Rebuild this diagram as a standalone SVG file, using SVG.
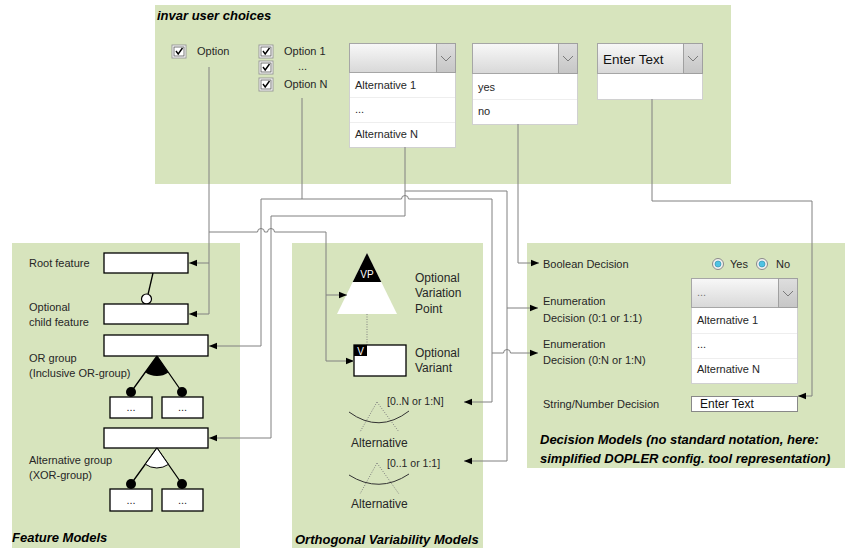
<svg xmlns="http://www.w3.org/2000/svg" width="845" height="551" viewBox="0 0 845 551">
<defs>
<style>
.panel{fill:#d7e4bd}
.t{font-family:"Liberation Sans",Arial,sans-serif;font-size:11px;fill:#262626}
.t12{font-size:12px}
.ts{font-size:10.5px}
.ti{font-family:"Liberation Sans",Arial,sans-serif;font-size:13px;font-weight:bold;font-style:italic;fill:#000}
.box{fill:#fff;stroke:#000;stroke-width:1.3}
.c{fill:none;stroke:#808080;stroke-width:1}
.ca{fill:none;stroke:#808080;stroke-width:1;marker-end:url(#ah)}
.hdr{fill:url(#gh);stroke:#a6a6a6}
.btn{fill:url(#gb);stroke:#a0a0a0}
.list{fill:#fff;stroke:#d0d0d0}
.sep{stroke:#eeeeee;stroke-width:1}
.chev{fill:none;stroke:#7a7a7a;stroke-width:1}
.ln{stroke:#000;stroke-width:1.3;fill:none}
.dot{stroke:#808080;stroke-width:1;stroke-dasharray:1 1.5;fill:none}
.arc{stroke:#333;stroke-width:1;fill:none}
</style>
<linearGradient id="gh" x1="0" y1="0" x2="0" y2="1"><stop offset="0" stop-color="#f8f8f8"/><stop offset="1" stop-color="#d8d8d8"/></linearGradient>
<linearGradient id="gb" x1="0" y1="0" x2="0" y2="1"><stop offset="0" stop-color="#dedede"/><stop offset="1" stop-color="#c6c6c6"/></linearGradient>
<marker id="ah" markerUnits="userSpaceOnUse" markerWidth="8" markerHeight="8" viewBox="0 0 8 8" refX="8" refY="4" orient="auto"><path d="M0,0.8 L8,4 L0,7.2 Z" fill="#000"/></marker>
<g id="chk">
<rect x="0" y="0" width="14" height="13" fill="#fff" stroke="#9a9a9a"/>
<rect x="2" y="2" width="10" height="9" fill="#fff" stroke="#555" stroke-width="0.8"/>
<path d="M4,6 L6.2,9 L10.5,3" fill="none" stroke="#000" stroke-width="1.4"/>
</g>
<g id="chev"><path class="chev" d="M-5,-2 L0,3 L5,-2"/></g>
<g id="radio">
<circle r="5.5" fill="#f0f0f0" stroke="#8a8a8a"/>
<circle r="3" fill="#4fc3e3" stroke="#2a8aa8" stroke-width="0.6"/>
</g>
</defs>

<!-- panels -->
<g id="panel-invar">
<rect class="panel" x="155" y="5" width="576" height="179"/>
<text class="ti" x="157" y="20">invar user choices</text>
</g>
<g id="panel-fm">
<rect class="panel" x="12" y="243" width="228" height="305"/>
<text class="ti" x="12" y="542">Feature Models</text>
</g>
<g id="panel-ovm">
<rect class="panel" x="292" y="243" width="191" height="305"/>
<text class="ti" x="295" y="544">Orthogonal Variability Models</text>
</g>
<g id="panel-dm">
<rect class="panel" x="527" y="243" width="318" height="225"/>
<text class="ti" x="540" y="444">Decision Models (no standard notation, here:</text>
<text class="ti" x="540" y="463">simplified DOPLER config. tool representation)</text>
</g>

<!-- invar choices -->
<g id="choice-option">
<use href="#chk" x="172" y="45"/>
<text class="t" x="197" y="55">Option</text>
</g>
<g id="choice-options">
<use href="#chk" x="259" y="45"/>
<use href="#chk" x="259" y="61"/>
<use href="#chk" x="259" y="78"/>
<text class="t" x="284" y="55">Option 1</text>
<text class="t" x="298" y="70">...</text>
<text class="t" x="284" y="88">Option N</text>
</g>
<g id="choice-dropdown">
<rect class="list" x="349.5" y="72.5" width="106" height="75"/>
<line class="sep" x1="350" y1="97.5" x2="455" y2="97.5"/>
<line class="sep" x1="350" y1="122.5" x2="455" y2="122.5"/>
<rect class="hdr" x="349.5" y="43.5" width="106" height="29"/>
<rect class="btn" x="436.5" y="43.5" width="19" height="29"/>
<use href="#chev" x="446" y="58"/>
<text class="t" x="355" y="89">Alternative 1</text>
<text class="t" x="355" y="113">...</text>
<text class="t" x="355" y="138">Alternative N</text>
</g>
<g id="choice-yesno">
<rect class="list" x="472.5" y="73.5" width="105" height="51"/>
<line class="sep" x1="473" y1="99.5" x2="577" y2="99.5"/>
<rect class="hdr" x="472.5" y="43.5" width="105" height="30"/>
<rect class="btn" x="558.5" y="43.5" width="19" height="30"/>
<use href="#chev" x="568" y="58"/>
<text class="t" x="478" y="91">yes</text>
<text class="t" x="478" y="115">no</text>
</g>
<g id="choice-text">
<rect class="list" x="597.5" y="73.5" width="105" height="26"/>
<rect class="hdr" x="597.5" y="43.5" width="105" height="30"/>
<rect class="btn" x="683.5" y="43.5" width="19" height="30"/>
<use href="#chev" x="693" y="58"/>
<text class="t" x="603" y="64" style="font-size:13.5px;fill:#111">Enter Text</text>
</g>

<!-- feature models -->
<g id="fm-root">
<rect class="box" x="104" y="253" width="84" height="20"/>
<text class="t" x="29" y="267">Root feature</text>
</g>
<g id="fm-optional">
<line class="ln" x1="153" y1="273" x2="148" y2="294.5"/>
<circle cx="146.5" cy="299" r="5" fill="#fff" stroke="#000" stroke-width="1.2"/>
<rect class="box" x="104" y="304" width="84" height="20"/>
<text class="t" x="29" y="311">Optional</text>
<text class="t" x="29" y="326">child feature</text>
</g>
<g id="fm-or">
<rect class="box" x="104" y="335" width="104" height="21"/>
<path d="M157,356 L145.3,372.2 A20,20 0 0 0 168.4,372.4 Z" fill="#000"/>
<path class="ln" d="M157,356 L131,392 M157,356 L182,392"/>
<circle cx="131" cy="392" r="5" fill="#000"/>
<circle cx="182" cy="392" r="5" fill="#000"/>
<rect class="box" x="110" y="397" width="42" height="21"/>
<rect class="box" x="162" y="397" width="41" height="21"/>
<text class="t" x="131" y="411" text-anchor="middle">...</text>
<text class="t" x="182.5" y="411" text-anchor="middle">...</text>
<text class="t" x="29" y="362">OR group</text>
<text class="t" x="29" y="377">(Inclusive OR-group)</text>
</g>
<g id="fm-xor">
<rect class="box" x="104" y="428" width="104" height="20"/>
<path class="ln" d="M157,448 L131,484 M157,448 L182,484"/>
<path d="M157,448 L145.3,464.2 A20,20 0 0 0 168.4,464.4 Z" fill="#fff" stroke="#000" stroke-width="1"/>
<circle cx="131" cy="484" r="5" fill="#000"/>
<circle cx="182" cy="484" r="5" fill="#000"/>
<rect class="box" x="110" y="489" width="42" height="22"/>
<rect class="box" x="162" y="489" width="41" height="22"/>
<text class="t" x="131" y="504" text-anchor="middle">...</text>
<text class="t" x="182.5" y="504" text-anchor="middle">...</text>
<text class="t" x="29" y="464">Alternative group</text>
<text class="t" x="29" y="479">(XOR-group)</text>
</g>

<!-- OVM -->
<g id="ovm-vp">
<polygon points="367,253 397,314 337,314" fill="#fff"/>
<polygon points="367,253 381.3,282 352.7,282" fill="#000"/>
<text x="367" y="278" text-anchor="middle" style="font-family:'Liberation Sans',Arial,sans-serif;font-size:10px;fill:#fff">VP</text>
<text class="t t12" x="415" y="282">Optional</text>
<text class="t t12" x="415" y="297">Variation</text>
<text class="t t12" x="415" y="313">Point</text>
</g>
<line class="dot" x1="367" y1="314" x2="367" y2="345"/>
<g id="ovm-variant">
<rect x="354" y="345" width="52" height="31" fill="#fff" stroke="#000" stroke-width="1.3"/>
<rect x="354" y="345" width="13" height="11" fill="#000"/>
<text x="360.5" y="355" text-anchor="middle" style="font-family:'Liberation Sans',Arial,sans-serif;font-size:10px;fill:#fff">V</text>
<text class="t t12" x="415" y="357">Optional</text>
<text class="t t12" x="415" y="372">Variant</text>
</g>
<g id="ovm-alt-n">
<path class="dot" d="M377,402 L360,432 M377,402 L399,432"/>
<path class="arc" d="M349,412 Q379,434 409,411"/>
<text class="t ts" x="387" y="405">[0..N or 1:N]</text>
<text class="t t12" x="351" y="447">Alternative</text>
</g>
<g id="ovm-alt-1">
<path class="dot" d="M377,463 L360,494 M377,463 L399,494"/>
<path class="arc" d="M349,475 Q379,494 409,474"/>
<text class="t ts" x="387" y="467">[0..1 or 1:1]</text>
<text class="t t12" x="351" y="508">Alternative</text>
</g>

<!-- decision models -->
<g id="dm-boolean">
<text class="t" x="543" y="268">Boolean Decision</text>
<use href="#radio" x="718" y="264"/>
<text class="t" x="730" y="268">Yes</text>
<use href="#radio" x="762" y="264"/>
<text class="t" x="776" y="268">No</text>
</g>
<g id="dm-enum1">
<text class="t" x="543" y="305">Enumeration</text>
<text class="t" x="543" y="322">Decision (0:1 or 1:1)</text>
</g>
<g id="dm-enum2">
<text class="t" x="543" y="348">Enumeration</text>
<text class="t" x="543" y="364">Decision (0:N or 1:N)</text>
</g>
<g id="dm-dropdown">
<rect class="list" x="691.5" y="307.5" width="106" height="76"/>
<line class="sep" x1="692" y1="333.5" x2="797" y2="333.5"/>
<line class="sep" x1="692" y1="358.5" x2="797" y2="358.5"/>
<rect class="hdr" x="691.5" y="278.5" width="106" height="29"/>
<rect class="btn" x="778.5" y="278.5" width="19" height="29"/>
<use href="#chev" x="788" y="293"/>
<text class="t" x="697" y="296" style="fill:#777">...</text>
<text class="t" x="697" y="324">Alternative 1</text>
<text class="t" x="697" y="348">...</text>
<text class="t" x="697" y="373">Alternative N</text>
</g>
<g id="dm-string">
<text class="t" x="543" y="408">String/Number Decision</text>
<rect x="691.5" y="396.5" width="106" height="15" fill="#fff" stroke="#888"/>
<text x="700" y="408" style="font-family:'Liberation Sans',Arial,sans-serif;font-size:12px;fill:#111">Enter Text</text>
</g>

<!-- connectors -->
<g id="connectors">
<path class="c" d="M209,67 V314"/>
<path class="ca" d="M209,263 H189"/>
<path class="ca" d="M209,314 H189"/>
<path class="c" d="M209,232 H257.5 a3.5,3.5 0 0 1 7,0 H267.5 a3.5,3.5 0 0 1 7,0 H326 V361"/>
<path class="ca" d="M326,295 H347"/>
<path class="ca" d="M326,361 H354"/>
<path class="c" d="M302,98 V199"/>
<path class="ca" d="M302,199 H261 V346 H209"/>
<path class="ca" d="M302,199 H401.5 a3.5,3.5 0 0 1 7,0 H492 V402 H464"/>
<path class="ca" d="M492,353 H503.5 a3.5,3.5 0 0 1 7,0 H538"/>
<path class="c" d="M405,147 V191"/>
<path class="ca" d="M405,191 V216 H271 V438 H209"/>
<path class="ca" d="M405,191 H507 V461 H464"/>
<path class="ca" d="M507,308 H538"/>
<path class="ca" d="M518,124 V263 H539"/>
<path class="ca" d="M652,99 V201 H812 V396 H798"/>
</g>
</svg>
